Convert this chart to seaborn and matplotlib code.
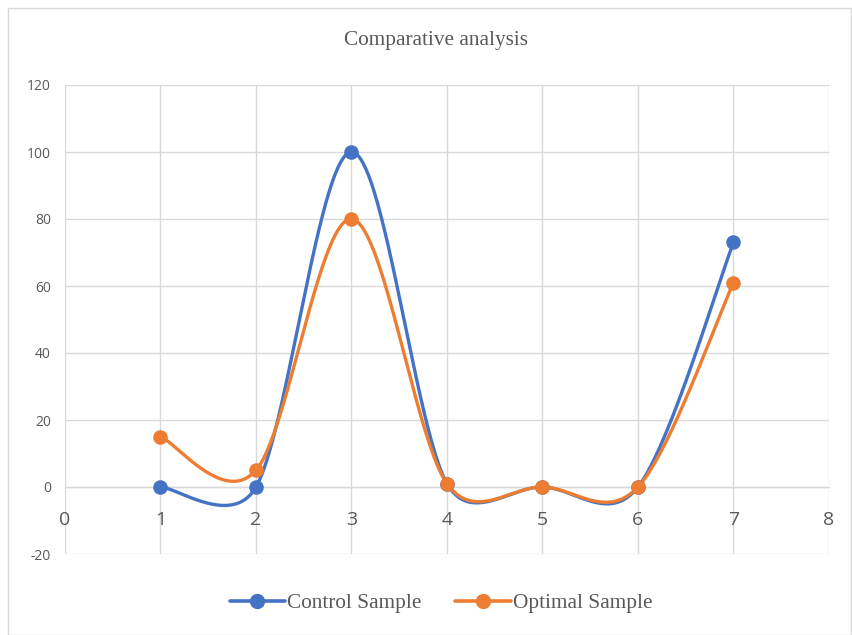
import numpy as np
import pandas as pd
import matplotlib
matplotlib.use("Agg")
import matplotlib.pyplot as plt
from matplotlib.lines import Line2D
from matplotlib.patches import Rectangle
import seaborn as sns

# Data
x_values = [1, 2, 3, 4, 5, 6, 7]
control_sample = [0, 0, 100, 1, 0, 0, 73]
optimal_sample = [15, 5, 80, 1, 0, 0, 61]
series_names = ["Control Sample", "Optimal Sample"]
title = "Comparative analysis"
x_ticks = [0, 1, 2, 3, 4, 5, 6, 7, 8]
y_ticks = [-20, 0, 20, 40, 60, 80, 100, 120]

BLUE = "#4472C4"
ORANGE = "#ED7D31"

FIG_W, FIG_H = 853, 635
AX_L, AX_R, AX_T, AX_B = 65, 829, 85, 554
X_LIM = (0, 8)
Y_LIM = (-20, 120)


def smooth_curve(xs, ys, steps=80):
    """Spreadsheet-style Bezier smoothing, computed in screen space so the
    control-point limiting behaves the same as on the rendered axes."""
    sx = (AX_R - AX_L) / (X_LIM[1] - X_LIM[0])
    sy = (AX_B - AX_T) / (Y_LIM[1] - Y_LIM[0])
    pts = np.column_stack([np.asarray(xs, float) * sx, np.asarray(ys, float) * sy])
    n = len(pts)
    t = np.linspace(0, 1, steps)[:, None]
    out = []
    for i in range(n - 1):
        p1, p2 = pts[i], pts[i + 1]
        p0 = pts[i - 1] if i > 0 else p1
        p3 = pts[i + 2] if i + 2 < n else p2
        d02 = np.linalg.norm(p2 - p0)
        d12 = np.linalg.norm(p2 - p1)
        d13 = np.linalg.norm(p3 - p1)
        f0 = 1 / 6 if d02 / 6 < d12 / 2 else (d12 / 2) / d02
        f1 = 1 / 6 if d13 / 6 < d12 / 2 else (d12 / 2) / d13
        c1 = p1 + (p2 - p0) * f0
        c2 = p2 - (p3 - p1) * f1
        seg = ((1 - t) ** 3) * p1 + 3 * ((1 - t) ** 2) * t * c1 + 3 * (1 - t) * t ** 2 * c2 + t ** 3 * p2
        out.append(seg if i == 0 else seg[1:])
    curve = np.vstack(out)
    return curve[:, 0] / sx, curve[:, 1] / sy


sns.set_theme(style="white")
plt.rcParams["font.family"] = ["Liberation Serif", "DejaVu Serif"]
plt.rcParams["axes.unicode_minus"] = False

fig = plt.figure(figsize=(FIG_W / 100, FIG_H / 100), dpi=100)
ax = fig.add_axes([AX_L / FIG_W, 1 - AX_B / FIG_H, (AX_R - AX_L) / FIG_W, (AX_B - AX_T) / FIG_H])

# chart border
fig.patches.append(Rectangle((8 / FIG_W, 0), 843 / FIG_W, 1 - 8 / FIG_H, transform=fig.transFigure,
                             fill=False, edgecolor="#D9D9D9", linewidth=1.0, zorder=0))

for vals, color in [(control_sample, BLUE), (optimal_sample, ORANGE)]:
    cx, cy = smooth_curve(x_values, vals)
    curve_df = pd.DataFrame({"x": cx, "y": cy})
    sns.lineplot(data=curve_df, x="x", y="y", ax=ax, color=color, linewidth=2.4,
                 sort=False, estimator=None, zorder=3)
    pts_df = pd.DataFrame({"x": x_values, "y": vals})
    sns.scatterplot(data=pts_df, x="x", y="y", ax=ax, color=color, s=110,
                    edgecolor=color, linewidth=0, zorder=4)

ax.set_xlim(*X_LIM)
ax.set_ylim(*Y_LIM)
ax.set_xticks(x_ticks)
ax.set_yticks(y_ticks)
ax.set_xlabel("")
ax.set_ylabel("")

ax.grid(True, color="#D9D9D9", linewidth=1.0, zorder=0)
ax.set_axisbelow(True)

for s in ["top", "right", "left"]:
    ax.spines[s].set_visible(False)
ax.spines["bottom"].set_position(("data", 0))
ax.spines["bottom"].set_color("#D9D9D9")
ax.spines["bottom"].set_linewidth(1.0)

ax.tick_params(axis="x", length=0, pad=17, labelsize=14, labelcolor="#595959")
ax.tick_params(axis="y", length=0, pad=10, labelsize=10, labelcolor="#595959")
for lbl in ax.get_xticklabels() + ax.get_yticklabels():
    lbl.set_fontfamily(["Open Sans", "DejaVu Sans"])

fig.text(436.5 / FIG_W, 1 - 41 / FIG_H, title, ha="center", va="center", fontsize=15.3, color="#595959")

handles = [Line2D([0], [0], color=BLUE, linewidth=2.6, marker="o", markersize=10),
           Line2D([0], [0], color=ORANGE, linewidth=2.6, marker="o", markersize=10)]
fig.legend(handles, series_names, loc="center", bbox_to_anchor=(441 / FIG_W, 1 - 603 / FIG_H), ncol=2,
           frameon=False, fontsize=15.3, handlelength=2.6, handletextpad=0.1, columnspacing=1.6,
           labelcolor="#595959")

fig.savefig("out.png", dpi=100)
